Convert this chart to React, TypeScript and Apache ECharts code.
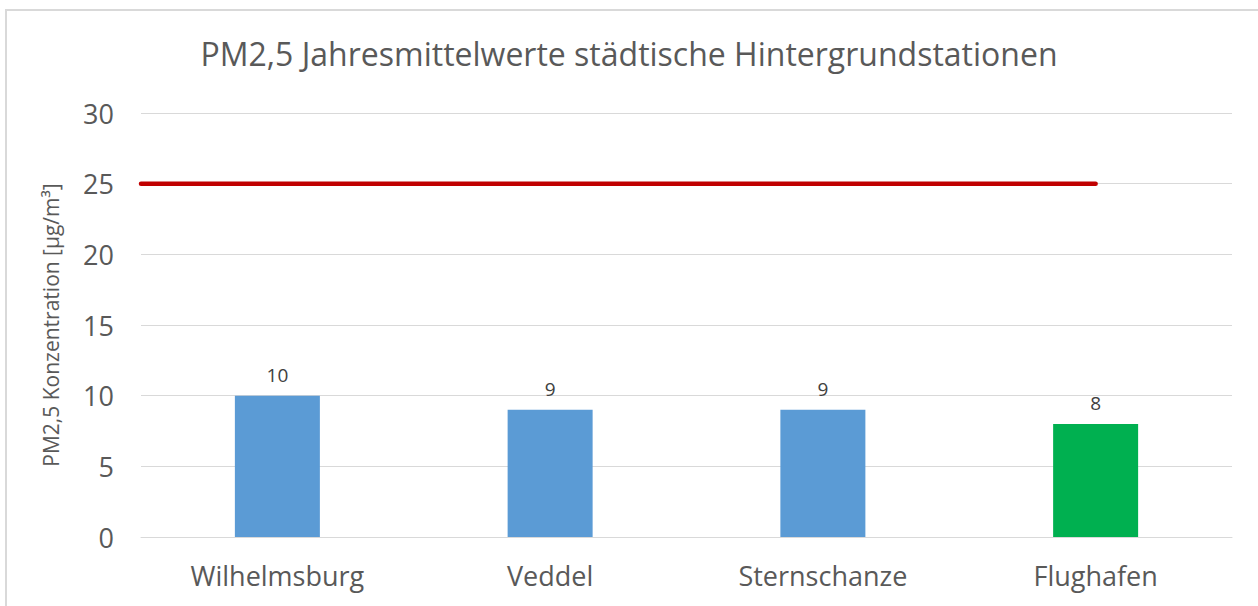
import React, { useEffect, useRef } from "react";
import * as echarts from "echarts";

const categories = ["Wilhelmsburg", "Veddel", "Sternschanze", "Flughafen"];
const values = [10, 9, 9, 8];
const barColors = ["#5B9BD5", "#5B9BD5", "#5B9BD5", "#00B050"];
const limitValue = 25;
const limitLine = [[0, limitValue], [3.5, limitValue]];
const yTicks = { min: 0, max: 30, interval: 5 };

export default function App() {
  const ref = useRef<HTMLDivElement>(null);
  useEffect(() => {
    if (!ref.current) return;
    const chart = echarts.init(ref.current, null, { renderer: "svg" });
    const font = "'Open Sans', 'Noto Sans', sans-serif";
    chart.setOption({
      animation: false,
      backgroundColor: "#ffffff",
      textStyle: { fontFamily: font },
      title: {
        text: "PM2,5 Jahresmittelwerte städtische Hintergrundstationen",
        left: "center",
        top: 32,
        textStyle: { fontSize: 32, fontWeight: "normal", color: "#595959", fontFamily: font },
      },
      graphic: [
        {
          type: "rect",
          shape: { x: 6, y: 10, width: 1400, height: 800 },
          style: { fill: "none", stroke: "#D9D9D9", lineWidth: 2 },
          silent: true,
          z: -10,
        },
      ],
      grid: { left: 141, right: 26, top: 113, bottom: 69 },
      xAxis: [
        {
          type: "category",
          data: categories,
          axisLine: { lineStyle: { color: "#D9D9D9", width: 1 } },
          axisTick: { show: false },
          axisLabel: { fontSize: 27, color: "#595959", margin: 25, fontFamily: font },
        },
        {
          type: "value",
          min: 0,
          max: 4,
          show: false,
        },
      ],
      yAxis: {
        type: "value",
        min: yTicks.min,
        max: yTicks.max,
        interval: yTicks.interval,
        name: "PM2,5 Konzentration [µg/m³]",
        nameLocation: "middle",
        nameGap: 80,
        nameTextStyle: { fontSize: 21, color: "#595959", fontFamily: font },
        axisLine: { show: false },
        axisTick: { show: false },
        axisLabel: { fontSize: 27, color: "#595959", margin: 27, fontFamily: font },
        splitLine: { lineStyle: { color: "#D9D9D9", width: 1 } },
      },
      series: [
        {
          type: "bar",
          data: values.map((v, i) => ({ value: v, itemStyle: { color: barColors[i] } })),
          barWidth: 85,
          label: {
            show: true,
            position: "top",
            distance: 11,
            fontSize: 19,
            color: "#404040",
            fontFamily: font,
          },
        },
        {
          type: "line",
          xAxisIndex: 1,
          data: limitLine,
          symbol: "none",
          lineStyle: { color: "#C00000", width: 4.5, cap: "round" },
          z: 5,
        },
      ],
    });
    return () => chart.dispose();
  }, []);
  return (
    <div
      ref={ref}
      style={{ position: "fixed", left: 0, top: 0, width: 1258, height: 606 }}
    />
  );
}
